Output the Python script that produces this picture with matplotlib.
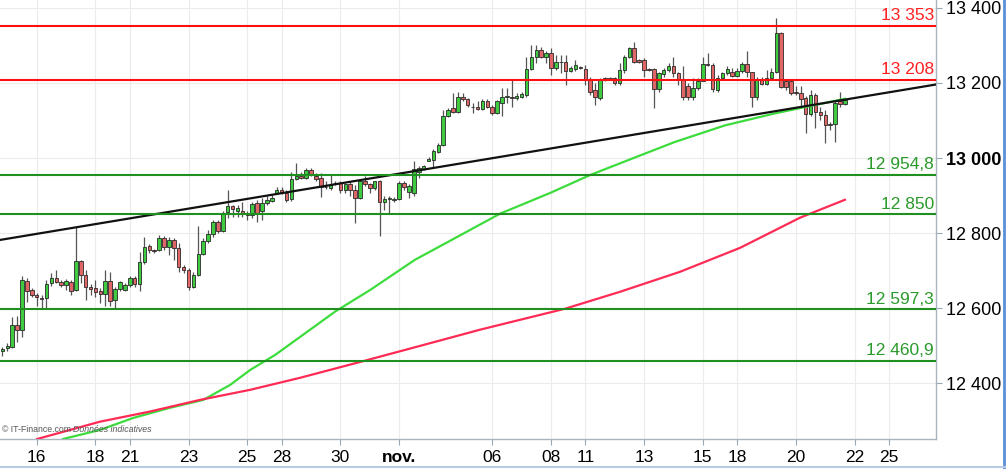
# Candlestick chart with support / resistance levels, trend line and two moving averages

import matplotlib.pyplot as plt
from matplotlib.lines import Line2D
from matplotlib.ticker import FuncFormatter
import numpy as np

plt.rcParams['font.family'] = ['Liberation Sans', 'DejaVu Sans']

# Data: one candle per row (open, high, low, close)
ohlc = [
    (12487, 12496, 12473, 12492), (12493, 12507, 12485, 12500), (12498, 12578, 12494, 12556),
    (12556, 12580, 12511, 12541), (12543, 12685, 12523, 12676), (12674, 12680, 12618, 12647),
    (12649, 12654, 12631, 12636), (12636, 12640, 12605, 12630), (12628, 12636, 12600, 12626),
    (12627, 12676, 12600, 12664), (12667, 12695, 12660, 12682), (12682, 12701, 12667, 12670),
    (12669, 12676, 12656, 12662), (12662, 12678, 12649, 12672), (12670, 12676, 12636, 12647),
    (12649, 12816, 12647, 12726), (12726, 12729, 12667, 12688), (12690, 12702, 12622, 12656),
    (12658, 12665, 12636, 12651), (12653, 12676, 12631, 12644), (12646, 12654, 12614, 12639),
    (12638, 12701, 12605, 12672), (12672, 12698, 12605, 12620), (12621, 12658, 12600, 12651),
    (12651, 12672, 12647, 12669), (12649, 12667, 12647, 12662), (12662, 12686, 12658, 12680),
    (12680, 12686, 12656, 12665), (12665, 12751, 12645, 12723), (12723, 12789, 12718, 12764),
    (12767, 12771, 12747, 12754), (12755, 12759, 12748, 12753), (12756, 12796, 12753, 12786),
    (12786, 12793, 12756, 12763), (12763, 12791, 12742, 12782), (12782, 12788, 12729, 12760),
    (12760, 12773, 12698, 12710), (12710, 12716, 12694, 12701), (12701, 12707, 12649, 12656),
    (12656, 12698, 12654, 12689), (12689, 12820, 12686, 12745), (12745, 12787, 12742, 12780),
    (12780, 12809, 12774, 12797), (12797, 12836, 12791, 12831), (12831, 12836, 12800, 12807),
    (12807, 12858, 12804, 12855), (12856, 12916, 12840, 12873), (12873, 12875, 12844, 12864),
    (12858, 12875, 12843, 12867), (12860, 12882, 12844, 12853), (12850, 12858, 12836, 12848),
    (12849, 12884, 12840, 12877), (12880, 12889, 12831, 12855), (12858, 12893, 12834, 12880),
    (12880, 12898, 12875, 12889), (12887, 12902, 12884, 12895), (12908, 12922, 12905, 12915),
    (12915, 12922, 12904, 12907), (12907, 12915, 12884, 12889), (12891, 12962, 12887, 12944),
    (12944, 12987, 12942, 12953), (12953, 12964, 12944, 12946), (12947, 12973, 12944, 12969),
    (12969, 12973, 12951, 12955), (12953, 12960, 12940, 12944), (12946, 12960, 12896, 12924),
    (12924, 12938, 12917, 12923), (12920, 12955, 12915, 12928), (12933, 12938, 12929, 12931),
    (12933, 12938, 12907, 12915), (12914, 12935, 12907, 12931), (12931, 12938, 12898, 12914),
    (12914, 12929, 12827, 12893), (12893, 12940, 12891, 12938), (12938, 12951, 12926, 12931),
    (12931, 12935, 12907, 12920), (12920, 12940, 12915, 12938), (12938, 12942, 12793, 12882),
    (12882, 12898, 12862, 12891), (12891, 12898, 12853, 12893), (12889, 12896, 12884, 12891),
    (12891, 12938, 12889, 12933), (12933, 12938, 12915, 12923), (12911, 12931, 12893, 12926),
    (12908, 12991, 12898, 12971), (12964, 12978, 12947, 12973), (12971, 12982, 12967, 12978),
    (12993, 13004, 12991, 12998), (12995, 13024, 12976, 13019), (13017, 13040, 13013, 13035),
    (13035, 13129, 13031, 13112), (13112, 13133, 13109, 13129), (13133, 13173, 13120, 13124),
    (13124, 13175, 13120, 13162), (13162, 13173, 13151, 13157), (13157, 13160, 13137, 13142),
    (13137, 13146, 13120, 13136), (13136, 13151, 13127, 13130), (13130, 13157, 13128, 13153),
    (13153, 13157, 13133, 13137), (13137, 13142, 13115, 13121), (13120, 13155, 13118, 13151),
    (13148, 13186, 13111, 13164), (13164, 13186, 13146, 13166), (13164, 13208, 13137, 13161),
    (13161, 13173, 13155, 13166), (13164, 13177, 13160, 13170), (13168, 13270, 13164, 13237),
    (13237, 13302, 13235, 13268), (13268, 13302, 13253, 13288), (13288, 13297, 13266, 13270),
    (13270, 13284, 13253, 13279), (13281, 13293, 13222, 13240), (13240, 13275, 13235, 13257),
    (13257, 13275, 13226, 13256), (13257, 13275, 13195, 13233), (13233, 13244, 13230, 13240),
    (13237, 13262, 13233, 13248), (13242, 13246, 13237, 13240), (13237, 13248, 13195, 13208),
    (13208, 13217, 13168, 13177), (13182, 13200, 13142, 13164), (13160, 13213, 13155, 13208),
    (13208, 13217, 13204, 13213), (13213, 13217, 13208, 13211), (13213, 13217, 13195, 13200),
    (13200, 13253, 13195, 13235), (13235, 13275, 13226, 13270), (13270, 13297, 13266, 13293),
    (13293, 13308, 13253, 13257), (13260, 13264, 13254, 13257), (13262, 13266, 13217, 13235),
    (13237, 13240, 13233, 13235), (13237, 13240, 13133, 13184), (13184, 13230, 13177, 13226),
    (13224, 13240, 13217, 13235), (13235, 13253, 13230, 13244), (13244, 13270, 13217, 13226),
    (13226, 13230, 13195, 13208), (13208, 13244, 13155, 13164), (13191, 13200, 13155, 13164),
    (13162, 13213, 13155, 13186), (13186, 13213, 13182, 13206), (13206, 13270, 13204, 13251),
    (13251, 13279, 13246, 13248), (13248, 13253, 13177, 13184), (13182, 13222, 13177, 13213),
    (13213, 13230, 13208, 13226), (13226, 13244, 13222, 13237), (13228, 13240, 13217, 13219),
    (13219, 13240, 13217, 13233), (13233, 13257, 13226, 13251), (13251, 13284, 13217, 13228),
    (13228, 13230, 13136, 13162), (13162, 13217, 13155, 13208), (13208, 13217, 13195, 13198),
    (13198, 13235, 13195, 13213), (13213, 13240, 13208, 13230), (13230, 13373, 13226, 13334),
    (13334, 13337, 13186, 13189), (13204, 13208, 13182, 13189), (13204, 13208, 13168, 13173),
    (13175, 13191, 13168, 13173), (13173, 13191, 13137, 13157), (13160, 13166, 13066, 13118),
    (13118, 13182, 13112, 13168), (13168, 13173, 13080, 13124), (13124, 13137, 13102, 13115),
    (13115, 13129, 13041, 13089), (13091, 13097, 13075, 13089), (13091, 13155, 13044, 13148),
    (13151, 13175, 13137, 13144), (13144, 13160, 13142, 13155),
]

# moving averages, read at a few candle positions
ma_fast_x = [12.4, 19.9, 26.7, 34.2, 41.0, 46.5, 50.6, 55.7, 60.8, 67.9, 75.1, 84.2,
             91.0, 101.6, 111.8, 120.0, 130.2, 137.3, 147.5, 157.7, 163.9, 172.0]
ma_fast_y = [12252, 12276, 12308, 12335, 12356, 12396, 12436, 12476, 12524, 12591, 12649, 12729,
             12777, 12852, 12907, 12955, 13007, 13043, 13087, 13119, 13136, 13158]
ma_slow_x = [7.1, 19.9, 30.1, 40.3, 50.6, 60.8, 73.0, 85.3, 97.5, 114.9, 126.1, 138.3,
             150.6, 162.8, 172.0]
ma_slow_y = [12252, 12298, 12325, 12356, 12383, 12415, 12457, 12500, 12543, 12599, 12644, 12697,
             12761, 12841, 12889]

# trend line end points
trend_x = [-0.5, 190.6]
trend_y = [12782, 13196]

# horizontal levels
res_levels = [13353, 13208]
res_labels = ['13 353', '13 208']
sup_levels = [12954.8, 12850, 12597.3, 12460.9]
sup_labels = ['12 954,8', '12 850', '12 597,3', '12 460,9']

# x axis
tick_pos = [7, 19, 26, 38, 50, 57, 69, 81, 100, 112, 119, 131, 143, 150, 162, 174, 181]
tick_labels = ['16', '18', '21', '23', '25', '28', '30', 'nov.', '06', '08', '11', '13',
               '15', '18', '20', '22', '25']
y_ticks = [12400, 12600, 12800, 13000, 13200, 13400]

fig = plt.figure(figsize=(10.06, 4.69), dpi=100)
ax = fig.add_axes([0, 0.064, 0.9304, 0.936])

o = np.array([c[0] for c in ohlc])
h = np.array([c[1] for c in ohlc])
l = np.array([c[2] for c in ohlc])
c = np.array([c[3] for c in ohlc])
x = np.arange(len(ohlc))
up = c >= o

ax.vlines(x, l, h, color='#555555', linewidth=0.9, zorder=3)
body = np.where(np.abs(c - o) < 1, 1, c - o)
ax.bar(x[up], body[up], bottom=o[up], width=0.72, color='#3fcb3f',
       edgecolor='#2a2a2a', linewidth=0.6, zorder=4)
ax.bar(x[~up], body[~up], bottom=o[~up], width=0.72, color='#e06565',
       edgecolor='#2a2a2a', linewidth=0.6, zorder=4)

ax.plot(ma_fast_x, ma_fast_y, color='#3ddc3d', linewidth=1.6, zorder=5)
ax.plot(ma_slow_x, ma_slow_y, color='#ff2b55', linewidth=1.6, zorder=5)
ax.plot(trend_x, trend_y, color='#111111', linewidth=1.6, zorder=6)

for lev, lab in zip(res_levels, res_labels):
    ax.axhline(lev, color='#ff1010', linewidth=1.5, zorder=6)
    ax.annotate(lab, (190.2, lev), xytext=(0, 2), textcoords='offset points',
                ha='right', va='bottom', color='#ff2020', fontsize=12.5)
for lev, lab in zip(sup_levels, sup_labels):
    ax.axhline(lev, color='#1f8f1f', linewidth=1.5, zorder=6)
    ax.annotate(lab, (190.2, lev), xytext=(0, 2), textcoords='offset points',
                ha='right', va='bottom', color='#2a9a2a', fontsize=12.5)

ax.set_xlim(-0.49, 190.6)
ax.set_ylim(12252, 13421)

ax.set_xticks(tick_pos)
ax.set_xticklabels(tick_labels, fontsize=12.5)
for t in ax.get_xticklabels():
    if t.get_text() == 'nov.':
        t.set_fontweight('bold')

ax.yaxis.tick_right()
ax.set_yticks(y_ticks)
ax.yaxis.set_major_formatter(FuncFormatter(lambda v, p: f'{int(v):,}'.replace(',', ' ')))
ax.tick_params(axis='y', labelsize=13, length=4, color='#9aa6b2', pad=3)
ax.tick_params(axis='x', length=4, color='#9aa6b2', pad=4)
for t in ax.get_yticklabels():
    if t.get_text() == '13 000':
        t.set_fontweight('bold')

ax.grid(True, color='#ececec', linewidth=0.8, zorder=0)
ax.set_axisbelow(True)
for side in ['top', 'left']:
    ax.spines[side].set_visible(False)
for side in ['bottom', 'right']:
    ax.spines[side].set_color('#a9b4c0')
    ax.spines[side].set_linewidth(1.0)

# source note: plain part then italic part right after it
note = ax.text(0.002, 0.012, '\u00a9 IT-Finance.com ', transform=ax.transAxes, fontsize=6.3,
               color='#555555', va='bottom', ha='left', zorder=7)
fig.canvas.draw()
ax.annotate('Donn\u00e9es indicatives', xy=(1, 0), xycoords=note, fontsize=6.3,
            color='#555555', va='bottom', ha='left', style='italic', zorder=7)

# frame on the figure edge
fig.add_artist(Line2D([0.998, 0.998], [0.0, 1.0], transform=fig.transFigure,
                      color='#5b8fd8', linewidth=2))
fig.add_artist(Line2D([0.0, 1.0], [0.004, 0.004], transform=fig.transFigure,
                      color='#b8cbe4', linewidth=1.5))

fig.savefig('out.png', dpi=100)
